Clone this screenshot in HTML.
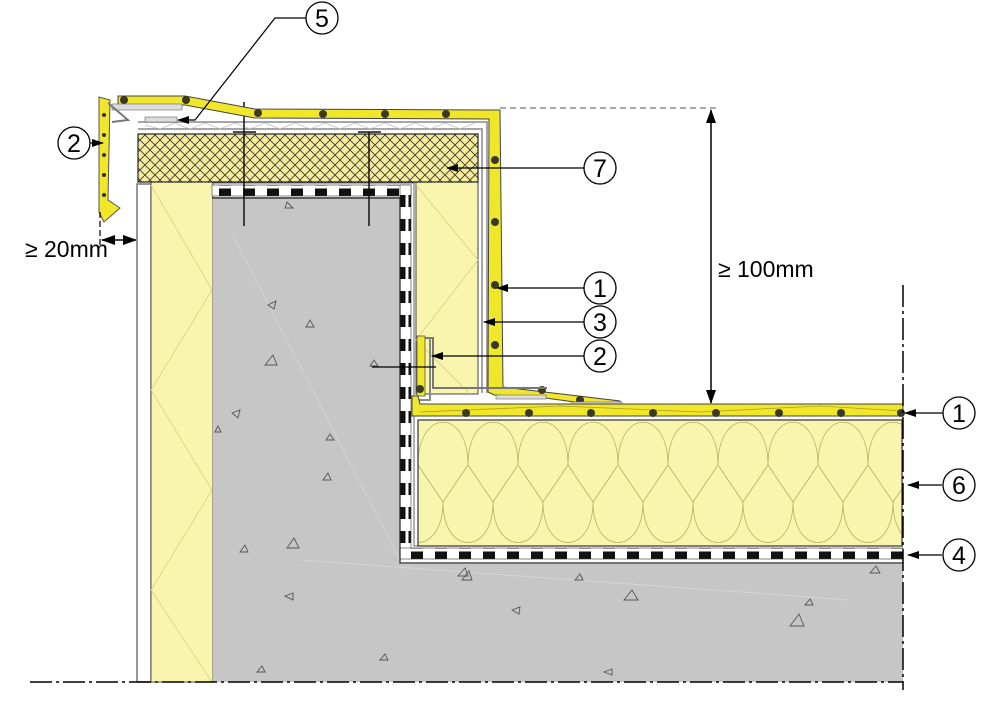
<!DOCTYPE html>
<html><head><meta charset="utf-8"><style>
html,body{margin:0;padding:0;background:#fff;}
svg{display:block;}
text{font-family:"Liberation Sans",sans-serif;}
</style></head><body>
<svg width="1000" height="707" viewBox="0 0 1000 707" xmlns="http://www.w3.org/2000/svg">
<defs>
<pattern id="xh" width="10" height="10" patternUnits="userSpaceOnUse">
<rect width="10" height="10" fill="#f7ec9a"/>
<path d="M0 0L10 10M10 0L0 10" stroke="#333" stroke-width="0.8"/>
</pattern>
<pattern id="wool" x="418" y="420" width="50" height="126" patternUnits="userSpaceOnUse">
<rect width="50" height="126" fill="#f9f5ae"/>
<path d="M0 45 C0 -12 50 -12 50 45 M0 45 L25 82 M50 45 L25 82 M25 82 C25 136 75 136 75 82 M-25 82 C-25 136 25 136 25 82" fill="none" stroke="#b8b060" stroke-width="0.8"/>
</pattern>
<pattern id="wb" width="24" height="11" patternUnits="userSpaceOnUse">
<rect width="24" height="11" fill="#fff"/><rect x="3" y="1.5" width="12" height="8" fill="#111"/>
</pattern>
<pattern id="wbv" width="11" height="24" patternUnits="userSpaceOnUse">
<rect width="11" height="24" fill="#fff"/><rect x="1.5" y="3" width="8" height="12" fill="#111"/>
</pattern>
<marker id="ar" markerWidth="12" markerHeight="8" refX="11" refY="4" orient="auto" markerUnits="userSpaceOnUse"><path d="M0 0L12 4L0 8z" fill="#000"/></marker>
<marker id="ar2" markerWidth="14" markerHeight="10" refX="13" refY="5" orient="auto-start-reverse" markerUnits="userSpaceOnUse"><path d="M0 0L14 5L0 10z" fill="#000"/></marker>
</defs>

<rect x="137" y="184" width="14" height="498" fill="#fff" stroke="#777" stroke-width="1.5"/>
<rect x="151" y="182" width="62" height="500" fill="#f9f5ae" stroke="#555" stroke-width="1"/>
<path d="M151 185 L212 290 L151 390 L212 490 L151 590 L212 682" fill="none" stroke="#d8cf80" stroke-width="0.8"/>
<path d="M213 197 L400 197 L400 564 L903 564 L903 682 L213 682 Z" fill="#c6c6c6"/>
<path d="M230 230 L400 560 M300 560 L850 600" stroke="#d4d4d4" stroke-width="1"/>
<rect x="212" y="185" width="199" height="11" fill="url(#wb)" stroke="#333" stroke-width="0.6"/>
<rect x="400" y="185" width="11" height="372" fill="url(#wbv)" stroke="#333" stroke-width="0.6"/>
<rect x="400" y="548" width="503" height="11" fill="url(#wb)" stroke="#333" stroke-width="0.6"/>
<path d="M212 198 L400 198 L400 563 L903 563" fill="none" stroke="#222" stroke-width="1.2"/>
<path d="M212 183 L414 183 L414 546 L903 546" fill="none" stroke="#666" stroke-width="1"/>
<rect x="416" y="182" width="62" height="212" fill="#f9f5ae" stroke="#444" stroke-width="1"/>
<path d="M416 185 L478 260 L416 340 L470 394" fill="none" stroke="#d8cf80" stroke-width="0.8"/>
<rect x="138" y="134" width="340" height="48" fill="url(#xh)" stroke="#222" stroke-width="1.2"/>
<path d="M138 122 L487 122 L487 393 M138 129 L482 129 L482 393" fill="none" stroke="#888" stroke-width="1.5"/>
<path d="M145 125 L160 129 L175 123 L190 129 L205 123 L220 129 L235 123 L250 129 L265 123 L280 129 L295 123 L310 129 L325 123 L340 129 L355 123 L370 129 L385 123 L400 129 L415 123 L430 129 L445 123 L460 129 L475 123" fill="none" stroke="#bbb" stroke-width="0.7"/>
<path d="M244 102 L244 145 M233 132 L256 132 M244 132 L244 226 M369 132 L369 226 M358 132 L381 132" stroke="#111" stroke-width="1.5"/>
<path d="M118 96 L185 96 L255 109 L492 110 L500 110 L503 387 L620 401 L620 408 L545 398 L494 395 L488 392 L489 119 L255 118 L185 105 L118 105 Z" fill="#f0e62a" stroke="#444" stroke-width="1"/>
<g fill="#3a3a20">
<circle cx="124" cy="100" r="4"/><circle cx="186" cy="100" r="4"/><circle cx="258" cy="113" r="4"/><circle cx="323" cy="114" r="4"/><circle cx="385" cy="114" r="4"/><circle cx="446" cy="114" r="4"/>
<circle cx="495" cy="160" r="4"/><circle cx="495" cy="222" r="4"/><circle cx="495" cy="285" r="4"/><circle cx="495" cy="345" r="4"/>
<circle cx="542" cy="390" r="4"/><circle cx="580" cy="400" r="4"/>
</g>
<rect x="112" y="104" width="70" height="6" fill="#ddd" stroke="#666" stroke-width="0.6"/>
<rect x="145" y="117" width="32" height="5" fill="#ddd" stroke="#666" stroke-width="0.6"/>
<rect x="496" y="395" width="50" height="4" fill="#ddd" stroke="#666" stroke-width="0.6"/>
<rect x="572" y="402" width="50" height="5" fill="#ddd" stroke="#666" stroke-width="0.6"/>
<path d="M420 338 L433 338 L433 388 L547 388" fill="none" stroke="#777" stroke-width="2"/>
<path d="M430 338 L430 400 L414 400" fill="none" stroke="#888" stroke-width="2"/>
<rect x="417" y="336" width="8" height="60" fill="#f0e62a" stroke="#555" stroke-width="0.8"/>
<path d="M412 396 L418 396 L420 404 L903 404 L903 416 L412 416 Z" fill="#f0e62a" stroke="#444" stroke-width="1"/>
<path d="M420 412 L560 406 L700 412 L820 406 L903 411" fill="none" stroke="#a9a020" stroke-width="0.8"/>
<g fill="#3a3a20">
<circle cx="466" cy="413" r="4"/><circle cx="529" cy="413" r="4"/><circle cx="591" cy="413" r="4"/><circle cx="653" cy="413" r="4"/><circle cx="716" cy="413" r="4"/><circle cx="779" cy="413" r="4"/><circle cx="841" cy="413" r="4"/><circle cx="901" cy="413" r="4"/>
<circle cx="420" cy="389" r="4"/>
</g>
<rect x="418" y="420" width="484" height="126" fill="url(#wool)" stroke="#333" stroke-width="1.2"/>
<path d="M99 97 L110 100 L108 200 L120 208 L104 222 L99 212 Z" fill="#f0e62a" stroke="#555" stroke-width="1"/>
<path d="M108 103 L128 120 L112 122" fill="none" stroke="#777" stroke-width="2"/>
<g fill="#333"><circle cx="104" cy="115" r="2"/><circle cx="104" cy="135" r="2"/><circle cx="104" cy="155" r="2"/><circle cx="104" cy="175" r="2"/><circle cx="104" cy="195" r="2"/></g>

<g fill="none" stroke="#555" stroke-width="0.9">
<path d="M285 208 l8 0 l-6 -6z"/><path d="M268 305 l8 -4 l-2 8z"/><path d="M306 327 l8 0 l-4 -7z"/><path d="M265 365 l12 0 l-4 -10z"/>
<path d="M232 413 l8 -3 l-2 8z"/><path d="M215 432 l6 0 l-3 -6z"/><path d="M326 440 l8 0 l-4 -6z"/><path d="M323 480 l8 0 l-3 -7z"/>
<path d="M240 552 l8 0 l-3 -7z"/><path d="M287 548 l12 0 l-5 -10z"/><path d="M458 576 l10 0 l-3 -8z"/><path d="M462 580 l10 0 l-3 -9z"/>
<path d="M575 580 l8 0 l-3 -6z"/><path d="M624 600 l14 0 l-6 -10z"/><path d="M512 610 l8 -3 l-1 7z"/><path d="M285 596 l8 -3 l0 7z"/>
<path d="M380 660 l8 0 l-3 -6z"/><path d="M604 672 l8 -3 l0 6z"/><path d="M790 626 l14 0 l-5 -12z"/><path d="M805 605 l8 0 l-3 -6z"/>
<path d="M870 573 l10 0 l-4 -7z"/><path d="M257 672 l8 0 l-3 -6z"/><path d="M370 366 l8 0 l-4 -6z"/>
</g>

<path d="M30 682 L903 682" stroke="#000" stroke-width="1.5" stroke-dasharray="22 4 3 4"/>
<path d="M903 285 L903 690" stroke="#000" stroke-width="1.5" stroke-dasharray="22 4 3 4"/>
<path d="M100 212 L100 245" stroke="#000" stroke-width="1.2" stroke-dasharray="6 3"/>
<path d="M500 108 L720 108" stroke="#555" stroke-width="1" stroke-dasharray="6 4"/>

<line x1="711" y1="110" x2="711" y2="403" stroke="#000" stroke-width="1.5" marker-start="url(#ar2)" marker-end="url(#ar2)"/>
<line x1="102" y1="240" x2="136" y2="240" stroke="#000" stroke-width="1.5" marker-start="url(#ar2)" marker-end="url(#ar2)"/>
<text x="718" y="277" font-size="23">≥ 100mm</text>
<text x="25" y="257" font-size="23">≥ 20mm</text>

<g stroke="#000" stroke-width="1.2" fill="none">
<line x1="944" y1="413" x2="905" y2="413" marker-end="url(#ar)"/>
<line x1="942" y1="485" x2="908" y2="485" marker-end="url(#ar)"/>
<line x1="942" y1="555" x2="908" y2="555" marker-end="url(#ar)"/>
<line x1="584" y1="288" x2="497" y2="288" marker-end="url(#ar)"/>
<line x1="584" y1="322" x2="484" y2="322" marker-end="url(#ar)"/>
<line x1="584" y1="356" x2="432" y2="356" marker-end="url(#ar)"/>
<line x1="584" y1="168" x2="447" y2="168" marker-end="url(#ar)"/>
<line x1="436" y1="367" x2="372" y2="367"/>
<path d="M306 18 L275 18 L195 120 L178 120" marker-end="url(#ar)"/>
<line x1="90" y1="143" x2="103" y2="143" marker-end="url(#ar)"/>
</g>
<g fill="#fff" stroke="#000" stroke-width="1.3">
<circle cx="959" cy="413" r="16"/><circle cx="959" cy="485" r="16"/><circle cx="959" cy="555" r="16"/>
<circle cx="600" cy="288" r="16"/><circle cx="600" cy="322" r="16"/><circle cx="600" cy="356" r="16"/>
<circle cx="600" cy="168" r="16"/><circle cx="322" cy="18" r="16"/><circle cx="74" cy="143" r="16"/>
</g>
<g font-size="25" text-anchor="middle">
<text x="959" y="422">1</text><text x="959" y="494">6</text><text x="959" y="564">4</text>
<text x="600" y="297">1</text><text x="600" y="331">3</text><text x="600" y="365">2</text>
<text x="600" y="177">7</text><text x="322" y="27">5</text><text x="74" y="152">2</text>
</g>
</svg>
</body></html>
